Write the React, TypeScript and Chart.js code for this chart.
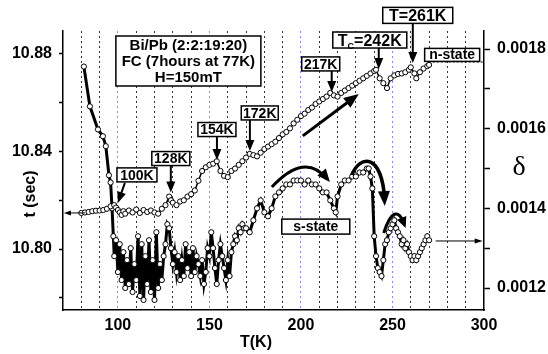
import React, { useEffect, useRef } from "react";
import { Chart, registerables } from "chart.js";

Chart.register(...registerables);

// ---------- data ----------
// upper curve: t (sec), left axis
const upperTemps = [
  80, 82, 84, 86, 88, 90, 92, 94, 96, 98,
  99, 100, 101, 102, 103, 104, 106, 108, 110, 112,
  114, 116, 118, 120, 122, 124, 126, 128, 129, 130,
  132, 134, 136, 138, 140, 142, 144, 146, 148, 150,
  152, 154, 156, 158, 160, 162, 164, 166, 168, 170,
  172, 174, 176, 178, 180, 182, 184, 186, 188, 190,
  192, 194, 196, 198, 200, 202, 204, 206, 208, 210,
  212, 214, 216, 218, 220, 222, 224, 226, 228, 230,
  232, 234, 236, 238, 240, 241, 243, 245, 247, 249,
  251, 253, 255, 257, 259, 260, 262, 263, 265, 267,
  269, 270,
];
const upperTime = [
  10.8148, 10.815, 10.8152, 10.8155, 10.8157, 10.8158, 10.816, 10.8165, 10.8175, 10.818,
  10.817, 10.816, 10.815, 10.814, 10.8155, 10.8145, 10.8158, 10.815, 10.8162, 10.8148,
  10.816, 10.8152, 10.8158, 10.815, 10.8145, 10.8165, 10.818, 10.8215, 10.82, 10.819,
  10.818, 10.8195, 10.82, 10.8215, 10.8225, 10.824, 10.828, 10.832, 10.8335, 10.8345,
  10.835, 10.836, 10.832, 10.83, 10.8295, 10.832, 10.833, 10.8345, 10.836, 10.8375,
  10.839, 10.8385, 10.838, 10.8395, 10.841, 10.842, 10.843, 10.844, 10.8455, 10.847,
  10.848, 10.8495, 10.8515, 10.853, 10.8545, 10.8555, 10.857, 10.858, 10.8595, 10.8605,
  10.8615, 10.8625, 10.864, 10.863, 10.8625, 10.864, 10.865, 10.866, 10.867, 10.868,
  10.869, 10.87, 10.871, 10.872, 10.873, 10.8735, 10.87, 10.868, 10.866, 10.87,
  10.8712, 10.8718, 10.872, 10.8725, 10.8735, 10.8745, 10.872, 10.87, 10.8725, 10.874,
  10.875, 10.8755,
];

// lower curve: delta, right axis
const lowerTemps = [
  81.4, 84.7, 89.1, 91.8, 93.4, 95.1, 96.0, 96.8, 97.5,
  98, 99, 100, 101, 102, 103, 104, 105, 106, 107,
  108, 109, 110, 111, 112, 113, 114, 115, 116, 117,
  118, 119, 120, 121, 122, 123, 124, 125, 126, 127,
  128, 129, 130, 131, 132, 133, 134, 135, 136, 137,
  138, 139, 140, 141, 142, 143, 144, 145, 146, 147,
  148, 149, 150, 151, 152, 153, 154, 155, 156, 157,
  158, 159, 160, 161, 162, 163, 164, 165, 166, 167,
  168, 169,
  170, 172, 174, 176, 178, 180, 182, 184, 186, 188,
  190, 192, 194, 196, 198, 200, 202, 204, 206, 208,
  210, 212, 214, 216, 218, 219, 220, 222, 224, 226,
  228, 230, 232, 234, 236, 237, 238, 239, 240, 241,
  242, 243, 244, 245, 246, 247, 248, 249, 250, 251,
  252, 253, 254, 255, 256, 257, 258, 259, 260, 261,
  262, 263, 264, 265, 266, 267, 268, 269, 270,
];
const lowerDelta = [
  0.001756, 0.001656, 0.001598, 0.001581, 0.001556, 0.001483, 0.001465, 0.0014, 0.00133,
  0.00128, 0.00132, 0.00124, 0.00131, 0.00122, 0.00129, 0.0012, 0.00127, 0.00121, 0.0013,
  0.00119, 0.00126, 0.00122, 0.00133, 0.00118, 0.00131, 0.00117, 0.00128, 0.00121, 0.00132,
  0.00119, 0.00127, 0.00117, 0.00134, 0.0012, 0.00126, 0.00122, 0.00128, 0.00131, 0.00136,
  0.00135, 0.0013, 0.00126, 0.00129, 0.00124, 0.00128, 0.00122, 0.00127, 0.00123, 0.00131,
  0.00125, 0.00129, 0.00123, 0.0013, 0.00124, 0.00128, 0.00126, 0.00123, 0.00127, 0.00121,
  0.00124, 0.0013, 0.00128, 0.00134, 0.0013, 0.00125, 0.00121, 0.00127, 0.00131, 0.00128,
  0.00125, 0.00122, 0.00127, 0.00123, 0.00129, 0.00131, 0.00133, 0.00132, 0.00135, 0.00134,
  0.00136, 0.00135,
  0.00135, 0.00134, 0.00137, 0.0014, 0.00142, 0.00139, 0.00138, 0.0014, 0.00143, 0.00144,
  0.00145, 0.00146, 0.00146, 0.00147, 0.00147, 0.00147, 0.00146, 0.00147, 0.00146, 0.00146,
  0.00145, 0.00144, 0.00144, 0.00142, 0.0014, 0.00139, 0.00143, 0.00146, 0.00147, 0.00147,
  0.00148, 0.00148, 0.00149, 0.00149, 0.0015, 0.0015, 0.00148, 0.00145, 0.00133, 0.00128,
  0.00125, 0.00124, 0.00123, 0.00127, 0.00131, 0.00132, 0.00134, 0.00135, 0.00136, 0.00137,
  0.00135, 0.00134, 0.00133, 0.00131, 0.00132, 0.0013, 0.00131, 0.00129, 0.00128, 0.00127,
  0.00128, 0.00127, 0.00128, 0.00129, 0.0013, 0.00131, 0.00132, 0.00133, 0.00132,
];

// axes
const xGridValues = [70, 80, 90, 100, 110, 120, 130, 140, 150, 160, 170, 180, 190, 200, 210, 220, 230, 240, 250, 260, 270, 280, 290, 300];
const xLabelValues = [100, 150, 200, 250, 300];
const tTickValues = [10.78, 10.8, 10.82, 10.84, 10.86, 10.88];
const tLabelValues = [10.8, 10.84, 10.88];
const deltaTickValues = [0.0012, 0.0013, 0.0014, 0.0015, 0.0016, 0.0017, 0.0018];
const deltaLabelValues = [0.0012, 0.0014, 0.0016, 0.0018];

const infoLines = ["Bi/Pb (2:2:19:20)", "FC (7hours at 77K)", "H=150mT"];

const FONT = "'Liberation Sans', Arial, Helvetica, sans-serif";

// annotations, positioned in data units (T in K, t in sec)
const labelBoxes = [
  { text: "100K", at: [110.4, 10.8304], w: 40, h: 14, size: 14, from: [103.8, 10.8271], to: [100.0, 10.8189] },
  { text: "128K", at: [128.9, 10.8371], w: 38, h: 14, size: 14, from: [128.9, 10.8343], to: [128.9, 10.8232] },
  { text: "154K", at: [154.1, 10.849], w: 38, h: 14, size: 14, from: [154.1, 10.8462], to: [154.1, 10.8365] },
  { text: "172K", at: [177.5, 10.8558], w: 37, h: 14, size: 14, from: [172.1, 10.8531], to: [172.1, 10.8402] },
  { text: "217K", at: [210.8, 10.8759], w: 38, h: 14, size: 14, from: [216.8, 10.8732], to: [216.8, 10.8644] },
  { text: "T=261K", at: [263.8, 10.8958], w: 70, h: 16, size: 16, from: [261.1, 10.8925], to: [261.1, 10.8763] },
];
const tcBox = { at: [237.6, 10.8857], w: 74, h: 16, from: [242.5, 10.8825], to: [242.5, 10.8738] };
const infoBox = { at: [138.5, 10.8771], w: 145, h: 50 };
const nStateBox = { text: "n-state", at: [282.6, 10.8796], w: 55, h: 13 };
const nStateLine = { from: [269.8, 10.8767], to: [300, 10.8767] };
const sStateBox = { text: "s-state", at: [208.1, 10.8092], w: 68, h: 15 };
const bigArrow = { from: [201.0, 10.8464], to: [231.6, 10.8636] };
const curve1 = { p0: [184.1, 10.8254], c: [202.1, 10.84], p2: [215.8, 10.8275] };
const curve2 = { p0: [227.8, 10.8304], c1: [232.1, 10.8386], c2: [244.1, 10.8398], p3: [245.8, 10.8176] };
const curve3 = { p0: [245.2, 10.8066], c: [251.2, 10.8201], p2: [257.2, 10.8086] };
const leftPointer = { from: [82.0, 10.8148], to: [70.5, 10.8148] };
const rightPointer = { from: [273.6, 10.8033], to: [299.3, 10.8033] };

// ---------- drawing helpers ----------
function head(ctx: CanvasRenderingContext2D, fx: number, fy: number, tx: number, ty: number, len: number, half: number) {
  const a = Math.atan2(ty - fy, tx - fx);
  const bx = tx - len * Math.cos(a);
  const by = ty - len * Math.sin(a);
  ctx.beginPath();
  ctx.moveTo(tx, ty);
  ctx.lineTo(bx + half * Math.sin(a), by - half * Math.cos(a));
  ctx.lineTo(bx - half * Math.sin(a), by + half * Math.cos(a));
  ctx.closePath();
  ctx.fill();
}

function arrow(ctx: CanvasRenderingContext2D, x1: number, y1: number, x2: number, y2: number, w: number, len: number, half: number) {
  const a = Math.atan2(y2 - y1, x2 - x1);
  ctx.lineWidth = w;
  ctx.beginPath();
  ctx.moveTo(x1, y1);
  ctx.lineTo(x2 - len * 0.7 * Math.cos(a), y2 - len * 0.7 * Math.sin(a));
  ctx.stroke();
  head(ctx, x1, y1, x2, y2, len, half);
}

function box(ctx: CanvasRenderingContext2D, cx: number, cy: number, w: number, h: number) {
  ctx.fillStyle = "#fff";
  ctx.fillRect(cx - w / 2, cy - h / 2, w, h);
  ctx.strokeStyle = "#000";
  ctx.lineWidth = 1.5;
  ctx.strokeRect(cx - w / 2, cy - h / 2, w, h);
  ctx.fillStyle = "#000";
}

const annotationPlugin = {
  id: "annotations",
  afterDatasetsDraw(chart: any) {
    const ctx: CanvasRenderingContext2D = chart.ctx;
    const xs = chart.scales.x;
    const ys = chart.scales.y;
    const X = (v: number) => xs.getPixelForValue(v);
    const Y = (v: number) => ys.getPixelForValue(v);
    ctx.save();
    ctx.strokeStyle = "#000";
    ctx.fillStyle = "#000";
    ctx.lineCap = "butt";

    // info box
    {
      const cx = X(infoBox.at[0]);
      const cy = Y(infoBox.at[1]);
      box(ctx, cx, cy, infoBox.w, infoBox.h);
      ctx.font = `bold 15px ${FONT}`;
      ctx.textAlign = "center";
      ctx.textBaseline = "middle";
      const offs = [-16, 0, 16];
      infoLines.forEach((l, i) => ctx.fillText(l, cx, cy + offs[i] + 1));
    }

    // label boxes with arrows
    for (const b of labelBoxes) {
      ctx.strokeStyle = "#000";
      ctx.fillStyle = "#000";
      arrow(ctx, X(b.from[0]), Y(b.from[1]), X(b.to[0]), Y(b.to[1]), 2, 11, 4.5);
      const cx = X(b.at[0]);
      const cy = Y(b.at[1]);
      box(ctx, cx, cy, b.w, b.h);
      ctx.font = `bold ${b.size}px ${FONT}`;
      ctx.textAlign = "center";
      ctx.textBaseline = "middle";
      ctx.fillText(b.text, cx, cy + 1);
    }

    // Tc box
    {
      ctx.strokeStyle = "#000";
      ctx.fillStyle = "#000";
      arrow(ctx, X(tcBox.from[0]), Y(tcBox.from[1]), X(tcBox.to[0]), Y(tcBox.to[1]), 2, 11, 4.5);
      const cx = X(tcBox.at[0]);
      const cy = Y(tcBox.at[1]);
      box(ctx, cx, cy, tcBox.w, tcBox.h);
      ctx.textBaseline = "alphabetic";
      ctx.textAlign = "left";
      const big = `bold 16px ${FONT}`;
      const small = `bold 9px ${FONT}`;
      ctx.font = big;
      const wT = ctx.measureText("T").width;
      const wRest = ctx.measureText("=242K").width;
      ctx.font = small;
      const wC = ctx.measureText("C").width;
      const total = wT + wC + wRest;
      let x = cx - total / 2;
      const base = cy + 6;
      ctx.font = big;
      ctx.fillText("T", x, base);
      x += wT;
      ctx.font = small;
      ctx.fillText("C", x, base + 3);
      x += wC;
      ctx.font = big;
      ctx.fillText("=242K", x, base);
    }

    // n-state
    {
      ctx.save();
      ctx.setLineDash([2, 2]);
      ctx.lineWidth = 1;
      ctx.beginPath();
      ctx.moveTo(X(nStateLine.from[0]), Y(nStateLine.from[1]));
      ctx.lineTo(X(nStateLine.to[0]), Y(nStateLine.to[1]));
      ctx.stroke();
      ctx.restore();
      const cx = X(nStateBox.at[0]);
      const cy = Y(nStateBox.at[1]);
      box(ctx, cx, cy, nStateBox.w, nStateBox.h);
      ctx.font = `bold 14px ${FONT}`;
      ctx.textAlign = "center";
      ctx.textBaseline = "middle";
      ctx.fillText(nStateBox.text, cx, cy + 0.5);
    }

    // s-state
    {
      const cx = X(sStateBox.at[0]);
      const cy = Y(sStateBox.at[1]);
      box(ctx, cx, cy, sStateBox.w, sStateBox.h);
      ctx.font = `bold 14px ${FONT}`;
      ctx.textAlign = "center";
      ctx.textBaseline = "middle";
      ctx.fillText(sStateBox.text, cx, cy + 1);
    }

    // big straight arrow
    ctx.strokeStyle = "#000";
    ctx.fillStyle = "#000";
    arrow(ctx, X(bigArrow.from[0]), Y(bigArrow.from[1]), X(bigArrow.to[0]), Y(bigArrow.to[1]), 3, 15, 6);

    // curved arrows
    {
      ctx.lineWidth = 3;
      const p0 = [X(curve1.p0[0]), Y(curve1.p0[1])];
      const c = [X(curve1.c[0]), Y(curve1.c[1])];
      const p2 = [X(curve1.p2[0]), Y(curve1.p2[1])];
      ctx.beginPath();
      ctx.moveTo(p0[0], p0[1]);
      ctx.quadraticCurveTo(c[0], c[1], p2[0] - 3, p2[1] - 3);
      ctx.stroke();
      head(ctx, c[0], c[1], p2[0], p2[1], 13, 5.5);
    }
    {
      ctx.lineWidth = 3.5;
      const p0 = [X(curve2.p0[0]), Y(curve2.p0[1])];
      const c1 = [X(curve2.c1[0]), Y(curve2.c1[1])];
      const c2 = [X(curve2.c2[0]), Y(curve2.c2[1])];
      const p3 = [X(curve2.p3[0]), Y(curve2.p3[1])];
      ctx.beginPath();
      ctx.moveTo(p0[0], p0[1]);
      ctx.bezierCurveTo(c1[0], c1[1], c2[0], c2[1], p3[0], p3[1] - 6);
      ctx.stroke();
      head(ctx, c2[0], c2[1], p3[0], p3[1], 15, 6);
    }
    {
      ctx.lineWidth = 3;
      const p0 = [X(curve3.p0[0]), Y(curve3.p0[1])];
      const c = [X(curve3.c[0]), Y(curve3.c[1])];
      const p2 = [X(curve3.p2[0]), Y(curve3.p2[1])];
      ctx.beginPath();
      ctx.moveTo(p0[0], p0[1]);
      ctx.quadraticCurveTo(c[0], c[1], p2[0] - 1, p2[1] - 4);
      ctx.stroke();
      head(ctx, c[0], c[1], p2[0], p2[1], 11, 5);
    }

    // axis pointers
    ctx.lineWidth = 1;
    arrow(ctx, X(leftPointer.from[0]), Y(leftPointer.from[1]), X(leftPointer.to[0]), Y(leftPointer.to[1]), 1, 7, 2.5);
    arrow(ctx, X(rightPointer.from[0]), Y(rightPointer.from[1]), X(rightPointer.to[0]), Y(rightPointer.to[1]), 1, 8, 2.5);

    // axis titles
    ctx.fillStyle = "#000";
    ctx.textAlign = "center";
    ctx.textBaseline = "middle";
    ctx.font = `bold 16px ${FONT}`;
    ctx.fillText("T(K)", 256, 343);
    ctx.save();
    ctx.translate(31, 194);
    ctx.rotate(-Math.PI / 2);
    ctx.fillText("t (sec)", 0, 0);
    ctx.restore();
    ctx.font = `28px 'Liberation Serif', 'DejaVu Serif', serif`;
    ctx.fillText("\u03b4", 519, 168);

    ctx.restore();
  },
};

const near = (list: number[], v: number, eps: number) => list.some((l) => Math.abs(l - v) < eps);

export default function App() {
  const ref = useRef<HTMLCanvasElement>(null);
  useEffect(() => {
    document.body.style.margin = "0";
    const canvas = ref.current!;
    const tickFont = { family: FONT, size: 16, weight: "bold" as const };
    const chart = new Chart(canvas, {
      type: "line",
      data: {
        datasets: [
          {
            label: "t (sec)",
            data: upperTemps.map((x, i) => ({ x, y: upperTime[i] })),
            yAxisID: "y",
            borderColor: "#000",
            borderWidth: 1.5,
            pointRadius: 2.6,
            pointBorderWidth: 1,
            pointBackgroundColor: "#fff",
            pointBorderColor: "#000",
            tension: 0,
          },
          {
            label: "\u03b4",
            data: lowerTemps.map((x, i) => ({ x, y: lowerDelta[i] })),
            yAxisID: "y1",
            borderColor: "#000",
            borderWidth: 3,
            pointRadius: 2.6,
            pointBorderWidth: 1,
            pointBackgroundColor: "#fff",
            pointBorderColor: "#000",
            tension: 0,
          },
        ],
      },
      options: {
        animation: false,
        responsive: false,
        maintainAspectRatio: false,
        layout: { padding: { top: 31, left: 0, right: 0, bottom: 0 } },
        plugins: { legend: { display: false }, tooltip: { enabled: false } },
        scales: {
          x: {
            type: "linear",
            position: "bottom",
            min: 70,
            max: 300,
            afterBuildTicks: (s: any) => {
              s.ticks = xGridValues.map((v) => ({ value: v }));
            },
            afterFit: (s: any) => {
              s.height = 44;
            },
            ticks: {
              autoSkip: false,
              maxRotation: 0,
              padding: 6,
              color: "#000",
              font: tickFont,
              callback: (v: any) => (near(xLabelValues, Number(v), 0.01) ? String(v) : ""),
            },
            grid: {
              drawTicks: false,
              lineWidth: 1,
              color: (c: any) => {
                const v = c.tick ? c.tick.value : 0;
                if (v <= 70 || v >= 300) return "rgba(0,0,0,0)";
                return v % 50 === 0 ? "#8a8aff" : "#333";
              },
            },
            border: { display: true, color: "#000", width: 1.5, dash: [2, 3] },
          },
          y: {
            type: "linear",
            position: "left",
            min: 10.775,
            max: 10.8894,
            afterBuildTicks: (s: any) => {
              s.ticks = tTickValues.map((v) => ({ value: v }));
            },
            afterFit: (s: any) => {
              s.width = 63;
            },
            ticks: {
              autoSkip: false,
              padding: 7,
              color: "#000",
              font: tickFont,
              callback: (v: any) => (near(tLabelValues, Number(v), 1e-6) ? Number(v).toFixed(2) : ""),
            },
            grid: { drawOnChartArea: false, drawTicks: true, tickLength: 4, tickWidth: 1.5, tickColor: "#000" },
            border: { display: true, color: "#000", width: 1.5 },
          },
          y1: {
            type: "linear",
            position: "right",
            min: 0.0011448,
            max: 0.0018452,
            afterBuildTicks: (s: any) => {
              s.ticks = deltaTickValues.map((v) => ({ value: v }));
            },
            afterFit: (s: any) => {
              s.width = 64;
            },
            ticks: {
              autoSkip: false,
              padding: 7,
              color: "#000",
              font: tickFont,
              callback: (v: any) => (near(deltaLabelValues, Number(v), 1e-9) ? Number(v).toFixed(4) : ""),
            },
            grid: { drawOnChartArea: false, drawTicks: true, tickLength: 6, tickWidth: 1.5, tickColor: "#000" },
            border: { display: true, color: "#000", width: 1.5 },
          },
        },
      },
      plugins: [annotationPlugin],
    });
    return () => chart.destroy();
  }, []);
  return (
    <div style={{ width: 548, height: 354 }}>
      <canvas ref={ref} width={548} height={354} style={{ display: "block" }} />
    </div>
  );
}
